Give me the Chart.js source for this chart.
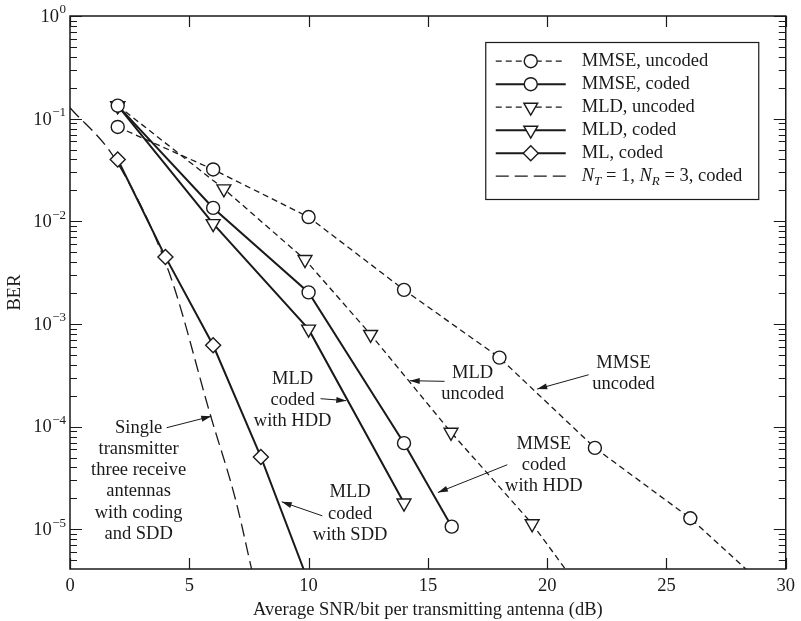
<!DOCTYPE html>
<html>
<head>
<meta charset="utf-8">
<script src="https://cdn.jsdelivr.net/npm/chart.js@4.4.0/dist/chart.umd.min.js"></script>
<style>
html, body { margin: 0; padding: 0; background: #fff; }
#wrap { width: 801px; height: 621px; }
</style>
</head>
<body>
<div id="wrap"><canvas id="berChart"></canvas></div>
<script>
// values (SNR in dB, BER)
const mmseUncodedSnr = [2, 6, 10, 14, 18, 22, 26];
const mmseUncodedBer = [0.083, 0.032, 0.011, 0.00215, 0.00047, 0.000062, 0.0000128];
const mmseUncodedTail = [28.33, 0.0000041];

const mmseCodedSnr = [2, 6, 10, 14, 16];
const mmseCodedBer = [0.134, 0.0135, 0.00203, 0.000069, 0.0000106];

const mldUncodedSnr = [2, 6.45, 9.85, 12.6, 15.97, 19.37];
const mldUncodedBer = [0.134, 0.0207, 0.00424, 0.00079, 0.000088, 0.0000113];
const mldUncodedTail = [20.76, 0.0000041];

const mldCodedSnr = [2, 6, 10, 14];
const mldCodedBer = [0.134, 0.0095, 0.00089, 0.000018];

const mlCodedSnr = [2, 4, 6, 8];
const mlCodedBer = [0.04, 0.0045, 0.00062, 0.0000506];
const mlCodedTail = [9.79, 0.0000041];

const singleSnr = [0, 1.9, 4.17, 5.9, 6.94, 7.61];
const singleBer = [0.128, 0.04, 0.0031, 0.000126, 0.0000194, 0.0000041];

const xTicks = [0, 5, 10, 15, 20, 25, 30];
const legendLabels = ['MMSE, uncoded', 'MMSE, coded', 'MLD, uncoded', 'MLD, coded', 'ML, coded'];

const serif = '"Liberation Serif", "Times New Roman", serif';
const ink = '#1a1a1a';

function pts(xs, ys, tail) {
    let out = xs.map((x, i) => ({ x: x, y: ys[i] }));
    if (tail) out.push({ x: tail[0], y: tail[1] });
    return out;
}

function series(label, xs, ys, tail, style, marker, radius) {
    const n = xs.length;
    return {
        label: label,
        data: pts(xs, ys, tail),
        borderColor: ink,
        borderWidth: style === 'solid' ? 2 : 1.3,
        borderDash: style === 'short' ? [6, 4] : (style === 'long' ? [13, 6] : []),
        pointStyle: marker || false,
        rotation: marker === 'triangle' ? 180 : 0,
        pointRadius: (c) => (marker && c.dataIndex < n) ? radius : 0,
        pointBackgroundColor: '#fff',
        pointBorderColor: ink,
        pointBorderWidth: 1.4,
        fill: false,
        tension: 0,
        cubicInterpolationMode: style === 'long' ? 'monotone' : 'default'
    };
}

const datasets = [
    series(legendLabels[0], mmseUncodedSnr, mmseUncodedBer, mmseUncodedTail, 'short', 'circle', 6.5),
    series(legendLabels[1], mmseCodedSnr, mmseCodedBer, null, 'solid', 'circle', 6.5),
    series(legendLabels[2], mldUncodedSnr, mldUncodedBer, mldUncodedTail, 'short', 'triangle', 8),
    series(legendLabels[3], mldCodedSnr, mldCodedBer, null, 'solid', 'triangle', 8),
    series(legendLabels[4], mlCodedSnr, mlCodedBer, mlCodedTail, 'solid', 'rectRot', 7.5),
    series('N_T = 1, N_R = 3, coded', singleSnr, singleBer, null, 'long', null, 0)
];

// text notes with arrows, placed in data coordinates
const notes = [
    { lines: ['Single', 'transmitter', 'three receive', 'antennas', 'with coding', 'and SDD'], at: [2.875, 9.75e-5], from: [4.05, 9.75e-5], to: [5.92, 1.26e-4] },
    { lines: ['MLD', 'coded', 'with HDD'], at: [9.33, 2.93e-4], from: [10.5, 1.87e-4], to: [11.58, 1.79e-4] },
    { lines: ['MLD', 'coded', 'with SDD'], at: [11.74, 2.28e-5], from: [10.58, 1.35e-5], to: [8.875, 1.85e-5] },
    { lines: ['MLD', 'uncoded'], at: [16.875, 3.33e-4], from: [15.7, 2.76e-4], to: [14.24, 2.8e-4] },
    { lines: ['MMSE', 'uncoded'], at: [23.2, 4.17e-4], from: [21.74, 3.2e-4], to: [19.58, 2.32e-4] },
    { lines: ['MMSE', 'coded', 'with HDD'], at: [19.86, 6.8e-5], from: [18.33, 4.25e-5], to: [15.42, 2.28e-5] }
];

function arrow(ctx, x1, y1, x2, y2) {
    ctx.beginPath();
    ctx.moveTo(x1, y1);
    ctx.lineTo(x2, y2);
    ctx.stroke();
    const a = Math.atan2(y2 - y1, x2 - x1);
    ctx.beginPath();
    ctx.moveTo(x2, y2);
    ctx.lineTo(x2 - 10 * Math.cos(a) + 3 * Math.sin(a), y2 - 10 * Math.sin(a) - 3 * Math.cos(a));
    ctx.lineTo(x2 - 10 * Math.cos(a) - 3 * Math.sin(a), y2 - 10 * Math.sin(a) + 3 * Math.cos(a));
    ctx.closePath();
    ctx.fill();
}

const framePlugin = {
    id: 'frame',
    afterDatasetsDraw(chart) {
        const { ctx, chartArea: a, scales: { x, y } } = chart;
        ctx.save();
        ctx.strokeStyle = ink;
        ctx.lineWidth = 1.5;
        ctx.strokeRect(a.left, a.top, a.right - a.left, a.bottom - a.top);
        ctx.lineWidth = 1.2;
        ctx.beginPath();
        xTicks.forEach(v => {
            const px = Math.round(x.getPixelForValue(v)) + 0.5;
            ctx.moveTo(px, a.bottom); ctx.lineTo(px, a.bottom - 11);
            ctx.moveTo(px, a.top); ctx.lineTo(px, a.top + 11);
        });
        for (let d = -6; d <= 0; d++) {
            for (let k = 1; k < 10; k++) {
                const v = k * Math.pow(10, d);
                if (v < y.min || v > y.max) continue;
                const py = Math.round(y.getPixelForValue(v)) + 0.5;
                const len = k === 1 ? 12 : 7;
                ctx.moveTo(a.left, py); ctx.lineTo(a.left + len, py);
                ctx.moveTo(a.right, py); ctx.lineTo(a.right - len, py);
            }
        }
        ctx.stroke();

        // y tick labels as 10 with a raised exponent
        ctx.fillStyle = ink;
        ctx.textBaseline = 'middle';
        y.ticks.forEach(t => {
            const e = Math.log10(t.value);
            if (Math.abs(e - Math.round(e)) > 1e-9) return;
            const py = y.getPixelForValue(t.value);
            const exp = Math.round(e) === 0 ? '0' : '\u2212' + String(-Math.round(e));
            ctx.font = '13px ' + serif;
            const ew = ctx.measureText(exp).width;
            const right = a.left - 4;
            ctx.textAlign = 'right';
            ctx.fillText(exp, right, py - 6);
            ctx.font = '18.5px ' + serif;
            ctx.fillText('10', right - ew - 0.5, py + 1);
        });

        // notes
        ctx.font = '18.5px ' + serif;
        ctx.textAlign = 'center';
        ctx.textBaseline = 'middle';
        notes.forEach(n => {
            const cx = x.getPixelForValue(n.at[0]);
            const cy = y.getPixelForValue(n.at[1]);
            n.lines.forEach((t, i) => ctx.fillText(t, cx, cy + i * 21.3));
            ctx.lineWidth = 1;
            arrow(ctx, x.getPixelForValue(n.from[0]), y.getPixelForValue(n.from[1]),
                x.getPixelForValue(n.to[0]), y.getPixelForValue(n.to[1]));
        });

        // legend box
        const bx = a.right - 300, by = a.top + 26.5, bw = 273, bh = 157;
        ctx.fillStyle = '#fff';
        ctx.fillRect(bx, by, bw, bh);
        ctx.lineWidth = 1.2;
        ctx.strokeStyle = ink;
        ctx.strokeRect(bx, by, bw, bh);
        chart.data.datasets.forEach((ds, i) => {
            const ry = by + 18.7 + i * 23;
            ctx.save();
            ctx.strokeStyle = ink;
            ctx.lineWidth = ds.borderWidth;
            ctx.setLineDash(ds.borderDash);
            ctx.beginPath();
            ctx.moveTo(bx + 10, ry);
            ctx.lineTo(bx + 80, ry);
            ctx.stroke();
            ctx.setLineDash([]);
            if (ds.pointStyle) {
                const r = ds.pointStyle === 'circle' ? 6.5 : (ds.pointStyle === 'triangle' ? 8 : 7.5);
                ctx.fillStyle = '#fff';
                ctx.lineWidth = 1.4;
                Chart.helpers.drawPoint(ctx, { pointStyle: ds.pointStyle, rotation: ds.rotation, radius: r, borderWidth: 1.4 }, bx + 45, ry);
            }
            ctx.restore();
            ctx.fillStyle = ink;
            ctx.textAlign = 'left';
            ctx.textBaseline = 'middle';
            let tx = bx + 96;
            if (i < 5) {
                ctx.font = '18.5px ' + serif;
                ctx.fillText(ds.label, tx, ry);
            } else {
                const parts = [
                    ['N', 'italic 18.5px', 0], ['T', 'italic 13px', 5], [' = 1, ', '18.5px', 0],
                    ['N', 'italic 18.5px', 0], ['R', 'italic 13px', 5], [' = 3, coded', '18.5px', 0]
                ];
                parts.forEach(p => {
                    ctx.font = p[1] + ' ' + serif;
                    ctx.fillText(p[0], tx, ry + p[2]);
                    tx += ctx.measureText(p[0]).width;
                });
            }
        });
        ctx.restore();
    }
};

new Chart(document.getElementById('berChart'), {
    type: 'line',
    data: { datasets: datasets },
    plugins: [framePlugin],
    options: {
        responsive: true,
        maintainAspectRatio: false,
        animation: false,
        layout: { padding: { left: 0, right: 11, top: 16, bottom: 0 } },
        plugins: { legend: { display: false }, tooltip: { enabled: false } },
        scales: {
            x: {
                type: 'linear',
                min: 0,
                max: 30,
                grid: { display: false, drawTicks: false },
                border: { display: false },
                afterBuildTicks: (s) => { s.ticks = xTicks.map(v => ({ value: v })); },
                afterFit: (s) => { s.height = 52; },
                ticks: { color: ink, font: { family: serif, size: 18.5 }, padding: 6 },
                title: { display: true, text: 'Average SNR/bit per transmitting antenna (dB)', color: ink, font: { family: serif, size: 18.5 }, padding: { top: 0, bottom: 0 } }
            },
            y: {
                type: 'logarithmic',
                min: 0.0000041,
                max: 1,
                grid: { display: false, drawTicks: false },
                border: { display: false },
                afterFit: (s) => { s.width = 70; },
                ticks: { display: false, autoSkip: false },
                title: { display: true, text: 'BER', color: ink, font: { family: serif, size: 18.5 } }
            }
        }
    }
});
</script>
</body>
</html>
